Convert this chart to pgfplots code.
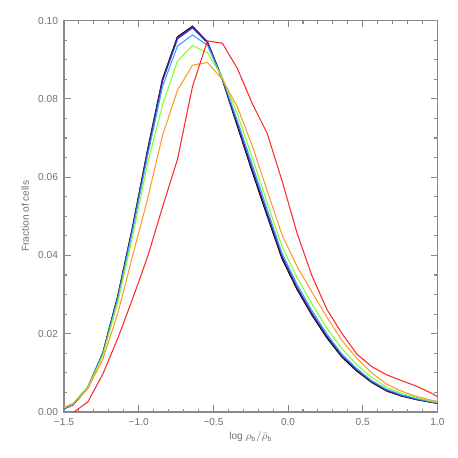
\documentclass[border=0pt]{standalone}
\usepackage{fontspec}
\setmainfont{Liberation Sans}
\usepackage{pgfplots}
\usepackage{pgfplotstable}
\pgfplotsset{compat=1.18}

\definecolor{axgray}{HTML}{8A8A8A}
\definecolor{labgray}{HTML}{707070}
\definecolor{cpurple}{HTML}{5A1E8C}
\definecolor{cblue}{HTML}{2848E8}
\definecolor{clblue}{HTML}{30A4FF}
\definecolor{cgreen}{HTML}{84FF2C}
\definecolor{corange}{HTML}{FF9A30}
\definecolor{cred}{HTML}{FF2A2A}

% x = log rho_b / mean rho_b ; one column per curve
\pgfplotstableread{
x      K       P       B       C       G       O       R
-1.54  0.0002  0.0002  0.0002  0.0003  0.0004  0.0005  -0.0030
-1.44  0.0019  0.0018  0.0019  0.0019  0.0021  0.0022  -0.0002
-1.34  0.0063  0.0062  0.0063  0.0063  0.0063  0.0060  0.0026
-1.24  0.0150  0.0149  0.0149  0.0148  0.0145  0.0135  0.0097
-1.14  0.0295  0.0294  0.0294  0.0290  0.0280  0.0252  0.0188
-1.04  0.0473  0.0472  0.0471  0.0465  0.0450  0.0400  0.0290
-0.94  0.0669  0.0667  0.0665  0.0655  0.0635  0.0545  0.0397
-0.84  0.0850  0.0848  0.0846  0.0832  0.0785  0.0707  0.0524
-0.74  0.0958  0.0956  0.0953  0.0935  0.0897  0.0822  0.0646
-0.64  0.0985  0.0984  0.0981  0.0963  0.0936  0.0886  0.0831
-0.54  0.0945  0.0945  0.0943  0.0937  0.0918  0.0893  0.0948
-0.44  0.0850  0.0851  0.0851  0.0852  0.0855  0.0850  0.0942
-0.34  0.0732  0.0735  0.0737  0.0745  0.0762  0.0780  0.0878
-0.24  0.0615  0.0619  0.0622  0.0632  0.0650  0.0680  0.0788
-0.14  0.0502  0.0506  0.0508  0.0518  0.0535  0.0565  0.0712
-0.04  0.0392  0.0396  0.0398  0.0405  0.0422  0.0452  0.0590
0.06   0.0314  0.0317  0.0319  0.0326  0.0343  0.0372  0.0457
0.16   0.0248  0.0251  0.0252  0.0259  0.0276  0.0306  0.0348
0.26   0.0190  0.0193  0.0194  0.0199  0.0214  0.0242  0.0262
0.36   0.0141  0.0143  0.0144  0.0148  0.0162  0.0183  0.0201
0.46   0.0105  0.0107  0.0108  0.0111  0.0121  0.0137  0.0148
0.56   0.0076  0.0077  0.0078  0.0080  0.0088  0.0100  0.0116
0.66   0.0054  0.0055  0.0056  0.0058  0.0063  0.0071  0.0095
0.76   0.0041  0.0042  0.0042  0.0044  0.0048  0.0053  0.0080
0.86   0.0032  0.0032  0.0033  0.0034  0.0037  0.0040  0.0066
0.96   0.0025  0.0025  0.0026  0.0026  0.0028  0.0030  0.0048
1.06   0.0019  0.0019  0.0019  0.0020  0.0021  0.0023  0.0026
}\cells

\begin{document}
\begin{tikzpicture}
\useasboundingbox (0,0) rectangle (343.5pt,343.5pt);
\begin{axis}[
    at={(48pt,34.5pt)}, anchor=south west,
    width=280.1pt, height=293.6pt, scale only axis,
    xmin=-1.5, xmax=1.0, ymin=0, ymax=0.10,
    xtick={-1.5,-1.0,-0.5,0,0.5,1.0},
    xticklabels={−1.5,−1.0,−0.5,0.0,0.5,1.0},
    ytick={0,0.02,0.04,0.06,0.08,0.10},
    yticklabels={0.00,0.02,0.04,0.06,0.08,0.10},
    minor x tick num=4, minor y tick num=3,
    tick align=inside,
    major tick length=5pt, minor tick length=2.6pt,
    axis line style={axgray, line width=0.8pt},
    every tick/.style={axgray, line width=0.8pt},
    tick label style={text=labgray, font=\fontsize{7.6}{9}\selectfont},
    xticklabel style={yshift=-1pt},
    yticklabel style={xshift=-1pt},
    xlabel={log\ \(\rho_{\mathrm{b}}/\bar{\rho}_{\mathrm{b}}\)},
    ylabel={Fraction of cells},
    label style={text=labgray, font=\fontsize{7.6}{9}\selectfont},
    xlabel style={at={(axis description cs:0.5,0)}, anchor=center, yshift=-19pt},
    ylabel style={at={(axis description cs:-0.104,0.5)}, anchor=center},
    every axis plot/.append style={line width=0.8pt, mark=none},
]
\addplot[black, line width=1.1pt] table[x=x, y=K] {\cells};
\addplot[cblue] table[x=x, y=B] {\cells};
\addplot[cpurple] table[x=x, y=P] {\cells};
\addplot[clblue] table[x=x, y=C] {\cells};
\addplot[cgreen] table[x=x, y=G] {\cells};
\addplot[corange] table[x=x, y=O] {\cells};
\addplot[cred] table[x=x, y=R] {\cells};
\end{axis}
\end{tikzpicture}
\end{document}
